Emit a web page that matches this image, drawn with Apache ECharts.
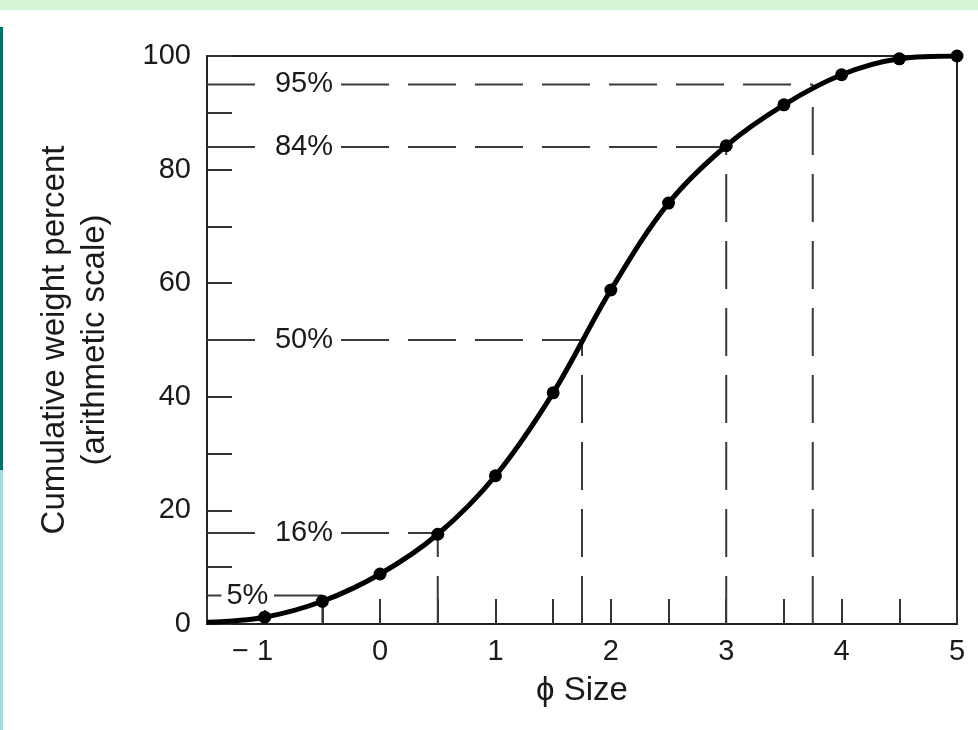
<!DOCTYPE html>
<html>
<head>
<meta charset="utf-8">
<script src="https://cdn.jsdelivr.net/npm/echarts@6/dist/echarts.min.js"></script>
<style>
  html, body { margin: 0; padding: 0; background: #fff; }
  #main { width: 978px; height: 730px; }
</style>
</head>
<body>
<div id="main"></div>
<script>
  // phi size vs cumulative weight percent
  const phiSize = [-1.5, -1, -0.5, 0, 0.5, 1, 1.5, 2, 2.5, 3, 3.5, 4, 4.5, 5];
  const cumPercent = [0.3, 1.2, 4.0, 8.8, 15.8, 26.1, 40.7, 58.8, 74.1, 84.2, 91.4, 96.7, 99.5, 100];

  // percentile guide lines
  const percentiles = [5, 16, 50, 84, 95];
  const percentilePhi = [-0.5, 0.5, 1.75, 3.0, 3.75];
  const percentileText = ['5%', '16%', '50%', '84%', '95%'];

  const xTicks = [-1, 0, 1, 2, 3, 4, 5];
  const yTicks = [0, 20, 40, 60, 80, 100];

  const font = 'Liberation Sans, Arial, Helvetica, sans-serif';
  const guideStyle = { color: '#3a3a3a', width: 2, type: [48, 19] };

  const chart = echarts.init(document.getElementById('main'));

  const series = [];
  percentiles.forEach(function(p, i) {
    // horizontal: from axis to the curve
    series.push({
      type: 'line', silent: true, symbol: 'none', z: 1,
      lineStyle: guideStyle,
      data: [[-1.5, p], [percentilePhi[i], p]]
    });
    // vertical: from the x axis up to the curve
    series.push({
      type: 'line', silent: true, symbol: 'none', z: 1,
      lineStyle: guideStyle,
      data: [[percentilePhi[i], 0], [percentilePhi[i], p]]
    });
  });

  // the percent labels sit on the horizontal guides
  series.push({
    type: 'scatter', silent: true, symbol: 'circle', symbolSize: 1, z: 10,
    itemStyle: { color: '#fff', opacity: 1 },
    label: {
      show: true,
      position: 'inside',
      fontFamily: font,
      fontSize: 29,
      color: '#1a1a1a',
      opacity: 1,
      backgroundColor: '#fff',
      padding: [0, 5, 0, 5]
    },
    labelLayout: { hideOverlap: false },
    data: percentiles.map(function(p, i) {
      return {
        value: [p === 5 ? -1.15 : -0.66, p],
        label: { formatter: percentileText[i] }
      };
    })
  });

  series.push({
    type: 'line',
    smooth: 0.35,
    z: 5,
    symbol: 'circle',
    symbolSize: 13,
    itemStyle: { color: '#000' },
    lineStyle: { color: '#000', width: 5 },
    data: phiSize.map(function(x, i) {
      const d = { value: [x, cumPercent[i]] };
      if (i === 0) { d.symbol = 'none'; }
      return d;
    })
  });

  const option = {
    backgroundColor: '#fff',
    animation: false,
    graphic: [
      { type: 'rect', shape: { x: 0, y: 0, width: 978, height: 10 }, style: { fill: '#d4f6d4' }, silent: true },
      { type: 'rect', shape: { x: 0, y: 27, width: 3, height: 443 }, style: { fill: '#006f6c' }, silent: true },
      { type: 'rect', shape: { x: 0, y: 470, width: 3, height: 260 }, style: { fill: '#a6dbd7' }, silent: true }
    ],
    grid: {
      left: 207,
      right: 21,
      top: 56,
      bottom: 106,
      show: true,
      borderColor: '#222',
      borderWidth: 2,
      backgroundColor: 'transparent'
    },
    xAxis: {
      type: 'value',
      min: -1.5,
      max: 5,
      interval: 0.5,
      name: '\u03d5 Size',
      nameLocation: 'middle',
      nameGap: 50,
      nameTextStyle: { fontFamily: font, fontSize: 33, color: '#1a1a1a' },
      splitLine: { show: false },
      axisLine: { lineStyle: { color: '#222', width: 2 } },
      axisTick: { inside: true, length: 25, lineStyle: { color: '#333', width: 2 } },
      axisLabel: {
        fontFamily: font,
        fontSize: 29,
        color: '#1a1a1a',
        margin: 13,
        formatter: function(v) {
          if (xTicks.indexOf(v) < 0) { return ''; }
          return v < 0 ? '\u2212 ' + Math.abs(v) + '   ' : String(v);
        }
      }
    },
    yAxis: {
      type: 'value',
      min: 0,
      max: 100,
      interval: 10,
      name: 'Cumulative weight percent\n(arithmetic scale)',
      nameLocation: 'middle',
      nameRotate: 90,
      nameGap: 92,
      nameTextStyle: { fontFamily: font, fontSize: 33, color: '#1a1a1a', lineHeight: 40 },
      splitLine: { show: false },
      axisLine: { onZero: false, lineStyle: { color: '#222', width: 2 } },
      axisTick: { inside: true, length: 25, lineStyle: { color: '#333', width: 2 } },
      axisLabel: {
        fontFamily: font,
        fontSize: 29,
        color: '#1a1a1a',
        margin: 16,
        formatter: function(v) {
          return yTicks.indexOf(v) < 0 ? '' : String(v);
        }
      }
    },
    series: series
  };

  chart.setOption(option);
</script>
</body>
</html>
